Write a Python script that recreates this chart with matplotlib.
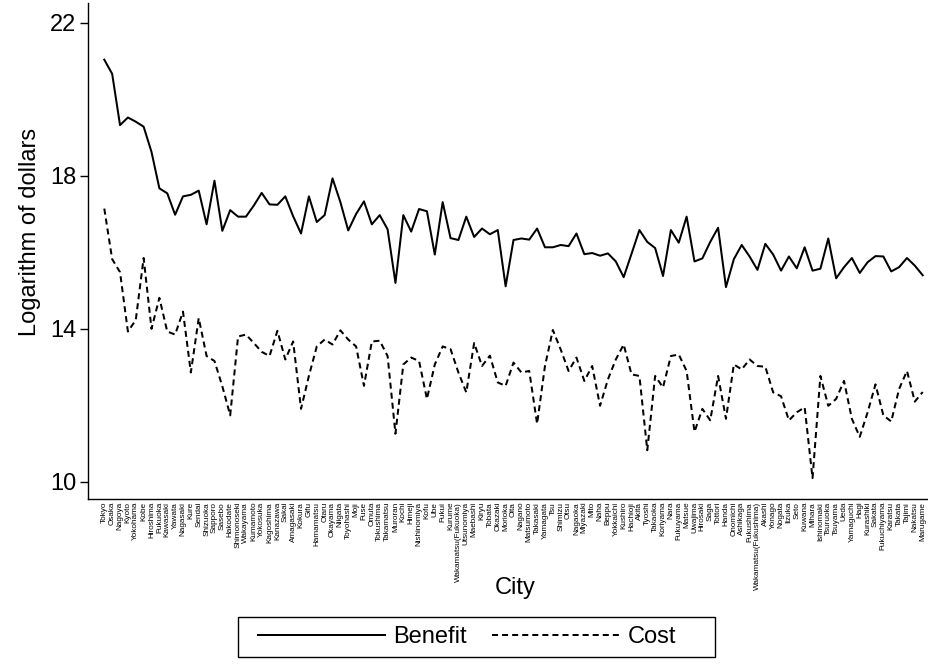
import numpy as np
import matplotlib
matplotlib.use("Agg")
import matplotlib.pyplot as plt
from matplotlib.patches import Rectangle

plt.rcParams['font.family'] = ['Liberation Sans', 'DejaVu Sans']

cities = [
    "Tokyo", "Osaka", "Nagoya", "Kyoto", "Yokohama", "Kobe", "Hiroshima", "Fukuoka",
    "Kawasaki", "Yawata", "Nagasaki", "Kure", "Sendai", "Shizuoka", "Sapporo", "Sasebo",
    "Hakodate", "Shimonoseki", "Wakayama", "Kumamoto", "Yokosuka", "Kagoshima", "Kanazawa",
    "Sakai", "Amagasaki", "Kokura", "Gifu", "Hamamatsu", "Otaru", "Okayama", "Niigata",
    "Toyohashi", "Moji", "Fuse", "Omuta", "Tokushima", "Takamatsu", "Muroran", "Kochi",
    "Himeji", "Nishinomiya", "Kofu", "Ube", "Fukui", "Kurume", "Wakamatsu(Fukuoka)",
    "Utsunomiya", "Maebashi", "Kiryu", "Tobata", "Okazaki", "Morioka", "Oita", "Nagano",
    "Matsumoto", "Takasaki", "Yamagata", "Tsu", "Shimizu", "Otsu", "Nagaoka", "Miyazaki",
    "Mito", "Naha", "Beppu", "Yokkaichi", "Kushiro", "Hachioji", "Akita", "Tyoshi",
    "Takaoka", "Koriyama", "Nara", "Fukuyama", "Matsue", "Uwajima", "Hirosaki", "Saga",
    "Tottori", "Handa", "Onomichi", "Ashikaga", "Fukushima", "Wakamatsu(Fukushima)",
    "Akashi", "Yonago", "Nogata", "Iizuka", "Seto", "Kuwana", "Mihara", "Ishinomaki",
    "Tsuruoka", "Tsuyama", "Ueda", "Yamaguchi", "Hagi", "Kurashiki", "Sakata",
    "Fukuchiyama", "Karatsu", "Takata", "Tajimi", "Nakatsu", "Marugame",
]

benefit = [
    21.03, 20.66, 19.32, 19.52, 19.41, 19.28, 18.62, 17.67, 17.54, 16.98, 17.46, 17.50,
    17.61, 16.73, 17.87, 16.56, 17.10, 16.93, 16.93, 17.22, 17.55, 17.25, 17.24, 17.46,
    16.94, 16.49, 17.46, 16.79, 16.97, 17.93, 17.31, 16.57, 17.00, 17.33, 16.73, 16.97,
    16.60, 15.20, 16.97, 16.54, 17.13, 17.07, 15.94, 17.31, 16.37, 16.32, 16.93, 16.40,
    16.62, 16.47, 16.58, 15.11, 16.32, 16.36, 16.33, 16.62, 16.13, 16.13, 16.19, 16.16,
    16.49, 15.95, 15.98, 15.91, 15.97, 15.76, 15.35, 15.96, 16.58, 16.27, 16.11, 15.38,
    16.58, 16.25, 16.93, 15.76, 15.84, 16.27, 16.64, 15.09, 15.82, 16.19, 15.89, 15.54,
    16.22, 15.94, 15.52, 15.89, 15.58, 16.13, 15.52, 15.57, 16.36, 15.32, 15.61, 15.85,
    15.46, 15.74, 15.90, 15.89, 15.50, 15.61, 15.85, 15.65, 15.40,
]

cost = [
    17.14, 15.82, 15.48, 13.93, 14.23, 15.85, 14.00, 14.81, 13.93, 13.85, 14.45, 12.86,
    14.28, 13.29, 13.16, 12.50, 11.74, 13.80, 13.85, 13.63, 13.40, 13.29, 13.95, 13.20,
    13.67, 11.91, 12.77, 13.54, 13.72, 13.59, 13.96, 13.72, 13.54, 12.51, 13.67, 13.69,
    13.29, 11.26, 13.07, 13.25, 13.16, 12.17, 13.07, 13.54, 13.47, 12.86, 12.34, 13.63,
    13.03, 13.30, 12.60, 12.51, 13.12, 12.86, 12.90, 11.52, 13.03, 13.97, 13.46, 12.90,
    13.25, 12.64, 13.03, 11.99, 12.68, 13.20, 13.59, 12.81, 12.77, 10.83, 12.77, 12.47,
    13.29, 13.33, 12.90, 11.31, 11.91, 11.61, 12.77, 11.65, 13.07, 12.94, 13.20, 13.03,
    13.01, 12.34, 12.24, 11.61, 11.82, 11.95, 10.10, 12.77, 11.99, 12.17, 12.64, 11.65,
    11.18, 11.82, 12.55, 11.74, 11.58, 12.43, 12.90, 12.10, 12.35,
]

y_ticks = [10, 14, 18, 22]

W, H = 929, 664
fig = plt.figure(figsize=(W / 100, H / 100), dpi=100)
ax = fig.add_axes([88 / W, 1 - 499 / H, 1 - 88 / W, (499 - 3) / H])

x = np.arange(len(cities))
ax.plot(x, benefit, color="black", lw=1.45, label="Benefit")
ax.plot(x, cost, color="black", lw=1.45, linestyle=(0, (3, 2)), label="Cost")

ax.set_xlim(-2.07, 104.8)
ax.set_ylim(9.556, 22.51)

ax.set_yticks(y_ticks)
ax.set_yticklabels([str(t) for t in y_ticks], fontsize=17)
ax.tick_params(axis="y", length=6, width=1, pad=2.5)

ax.set_xticks(x)
ax.set_xticklabels(cities, rotation=90, fontsize=5.9)
ax.tick_params(axis="x", length=0, pad=2)

for side in ["top", "right"]:
    ax.spines[side].set_visible(False)
for side in ["left", "bottom"]:
    ax.spines[side].set_linewidth(1.0)

fig.text(30 / W, 1 - 232 / H, "Logarithm of dollars", rotation=90,
         ha="center", va="center", fontsize=17)
fig.text(515 / W, 1 - 588 / H, "City", ha="center", va="center", fontsize=17)

# legend: entries without frame, box drawn separately
fig.legend(loc="center", bbox_to_anchor=(467 / W, 1 - 637 / H), ncol=2,
           fontsize=17, handlelength=5.4, handletextpad=0.35, columnspacing=1.05,
           frameon=False)
fig.patches.append(Rectangle((238 / W, 1 - 657 / H), 477 / W, 40 / H,
                             transform=fig.transFigure, fill=False,
                             edgecolor="black", linewidth=1.0))

fig.savefig("out.png", dpi=100)
